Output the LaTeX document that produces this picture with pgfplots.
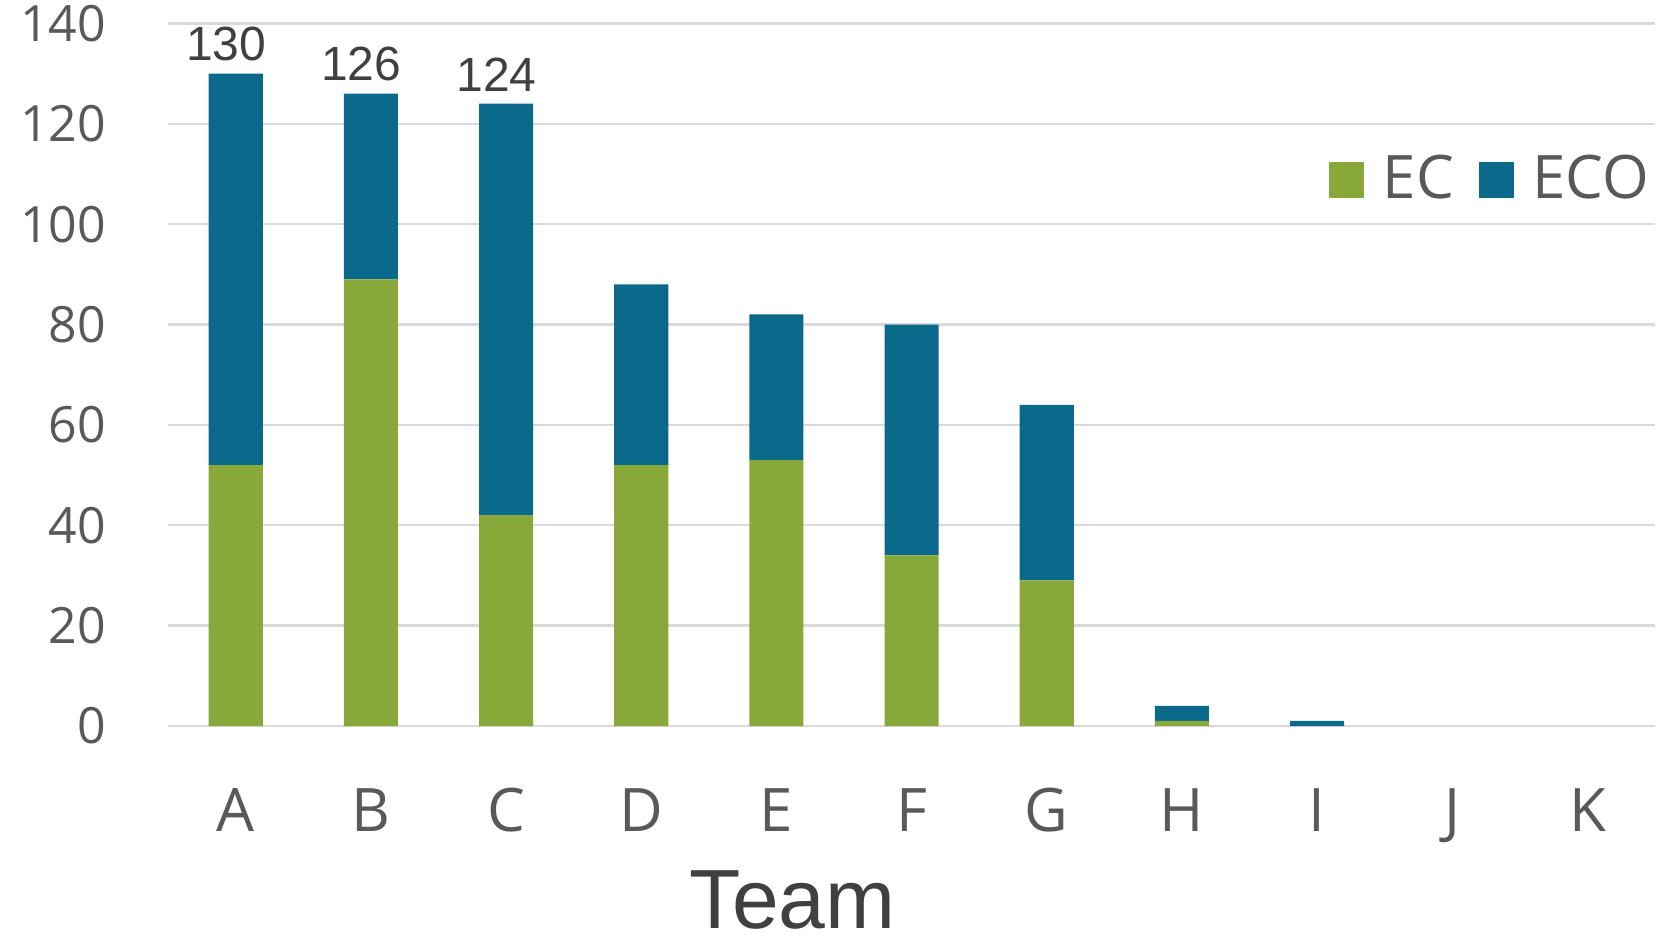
\documentclass[border=0pt]{standalone}
\usepackage{fontspec}
\setmainfont{Open Sans}
\newfontfamily\arial{Liberation Sans}
\usepackage{pgfplots}
\pgfplotsset{compat=1.18}
\definecolor{ecgreen}{HTML}{89A83A}
\definecolor{ecoblue}{HTML}{0B698C}
\definecolor{gridgray}{HTML}{D9D9D9}
\definecolor{txtgray}{HTML}{595959}
\definecolor{darktxt}{HTML}{404040}
\begin{document}
\begin{tikzpicture}
\begin{axis}[
  scale only axis, width=371.7pt, height=175.65pt,
  ybar stacked, bar width=0.4,
  xmin=-0.5, xmax=10.5, ymin=0, ymax=140,
  enlargelimits=false,
  xtick={0,1,2,3,4,5,6,7,8,9,10},
  xticklabels={A,B,C,D,E,F,G,H,I,J,K},
  ytick={0,20,40,60,80,100,120,140},
  axis line style={draw=none},
  major tick length=0pt,
  ymajorgrids, grid style={gridgray, line width=0.6pt},
  /pgf/number format/assume math mode=true,
  yticklabel style={anchor=east, inner sep=0pt, xshift=-15.4pt, font=\fontsize{12.5}{14}\selectfont, text=txtgray},
  xticklabel style={anchor=north, inner sep=0pt, yshift=-15.4pt, font=\fontsize{15}{18}\selectfont, text=txtgray},
  xlabel={Team},
  xlabel style={at={(axis description cs:0.42,-0.248)}, anchor=center, inner sep=0pt, font=\arial\fontsize{21}{24}\selectfont, text=darktxt},
  legend style={at={(axis description cs:0.9965,0.777)}, anchor=east, draw=none, fill=none, inner sep=0pt,
    font=\fontsize{15}{18}\selectfont, text=txtgray,
    nodes={inner sep=0pt},
    /tikz/every odd column/.append style={column sep=4.6pt},
    /tikz/every even column/.append style={column sep=6.2pt}},
  legend columns=2,
  legend image code/.code={\fill[#1] (0pt,-4.4pt) rectangle (8.8pt,4.4pt);},
]
\addplot[fill=ecgreen, draw=none] coordinates {
  (0,52) (1,89) (2,42) (3,52) (4,53) (5,34) (6,29) (7,1) (8,0) (9,0) (10,0)};
\addplot[fill=ecoblue, draw=none] coordinates {
  (0,78) (1,37) (2,82) (3,36) (4,29) (5,46) (6,35) (7,3) (8,1) (9,0) (10,0)};
\legend{EC,ECO}
\end{axis}
\begin{axis}[
  scale only axis, width=371.7pt, height=175.65pt,
  ybar, bar width=0.4, bar shift=0pt,
  xmin=-0.5, xmax=10.5, ymin=0, ymax=140,
  enlargelimits=false,
  hide axis,
  /pgf/number format/assume math mode=true,
]
\addplot[fill=none, draw=none,
  nodes near coords,
  nodes near coords style={font=\arial\fontsize{12}{14}\selectfont, text=darktxt, anchor=south, inner sep=0pt, yshift=2.9pt, xshift=-2.4pt}]
  coordinates {(0,130) (1,126) (2,124)};
\end{axis}
\pgfresetboundingbox
\path[use as bounding box] (-42.05pt,-55pt) rectangle (375.2pt,181.5pt);
\end{tikzpicture}
\end{document}
